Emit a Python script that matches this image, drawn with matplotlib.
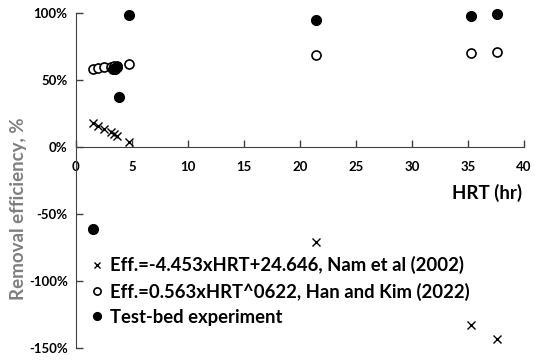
import matplotlib
matplotlib.use("Agg")
import matplotlib.pyplot as plt
from matplotlib.ticker import FuncFormatter

plt.rcParams['font.family'] = ['Lato', 'DejaVu Sans']
plt.rcParams['font.weight'] = 'bold'

# HRT (hr) for the literature curves
hrt = [1.5, 2.0, 2.5, 3.1, 3.4, 3.7, 4.7, 21.4, 35.3, 37.6]
nam_eff = [18.0, 15.6, 13.4, 10.9, 9.5, 8.1, 3.6, -71.0, -132.5, -143.0]
han_eff = [58.0, 59.0, 59.5, 60.0, 60.3, 60.8, 61.8, 68.3, 70.3, 70.8]

# test-bed measurements
test_hrt = [1.5, 3.3, 3.5, 3.7, 3.8, 4.7, 21.4, 35.3, 37.6]
test_eff = [-61.0, 58.0, 58.0, 60.0, 37.0, 98.5, 94.5, 97.5, 99.3]

fig = plt.figure(figsize=(5.36, 3.61), dpi=100)
ax = fig.add_axes([76 / 536, (361 - 348) / 361, 448 / 536, 335 / 361])

ax.plot(hrt, nam_eff, 'x', color='black', ms=6, mew=1.0, clip_on=False,
        label='Eff.=-4.453xHRT+24.646, Nam et al (2002)')
ax.plot(hrt, han_eff, 'o', mfc='white', mec='black', ms=6.5, mew=1.2,
        clip_on=False, label='Eff.=0.563xHRT^0622, Han and Kim (2022)')
ax.plot(test_hrt, test_eff, 'o', color='black', ms=7, clip_on=False,
        label='Test-bed experiment')

ax.set_xlim(0, 40)
ax.set_ylim(-150, 100)
ax.set_xticks(range(0, 41, 5))
ax.set_yticks(range(-150, 101, 50))
ax.yaxis.set_major_formatter(FuncFormatter(lambda v, p: '%d%%' % v))

for s in ['top', 'right']:
    ax.spines[s].set_visible(False)
ax.spines['bottom'].set_position(('data', 0))
ax.spines['bottom'].set_color('#404040')
ax.spines['left'].set_color('#404040')
ax.tick_params(direction='in', length=5, width=1, color='#404040',
               labelsize=9.5, pad=6)
ax.tick_params(axis='x', pad=10)
for lab in ax.get_xticklabels() + ax.get_yticklabels():
    lab.set_fontweight('bold')

fig.text(487 / 536, 1 - 193 / 361, 'HRT (hr)', ha='center', va='center',
         fontsize=13.5, fontweight='bold')
fig.text(19 / 536, 1 - 209 / 361, 'Removal efficiency, %', ha='center',
         va='center', rotation=90, fontsize=13.5, fontweight='bold',
         color='#7f7f7f')

ax.legend(loc='upper left', bbox_to_anchor=(91 / 536, 1 - 256 / 361),
          bbox_transform=fig.transFigure, frameon=False,
          handlelength=0.6, handletextpad=0.45, labelspacing=0.45,
          markerscale=0.8, borderpad=0, borderaxespad=0,
          prop={'weight': 'bold', 'size': 13.3})

fig.savefig('out.png', dpi=100)
